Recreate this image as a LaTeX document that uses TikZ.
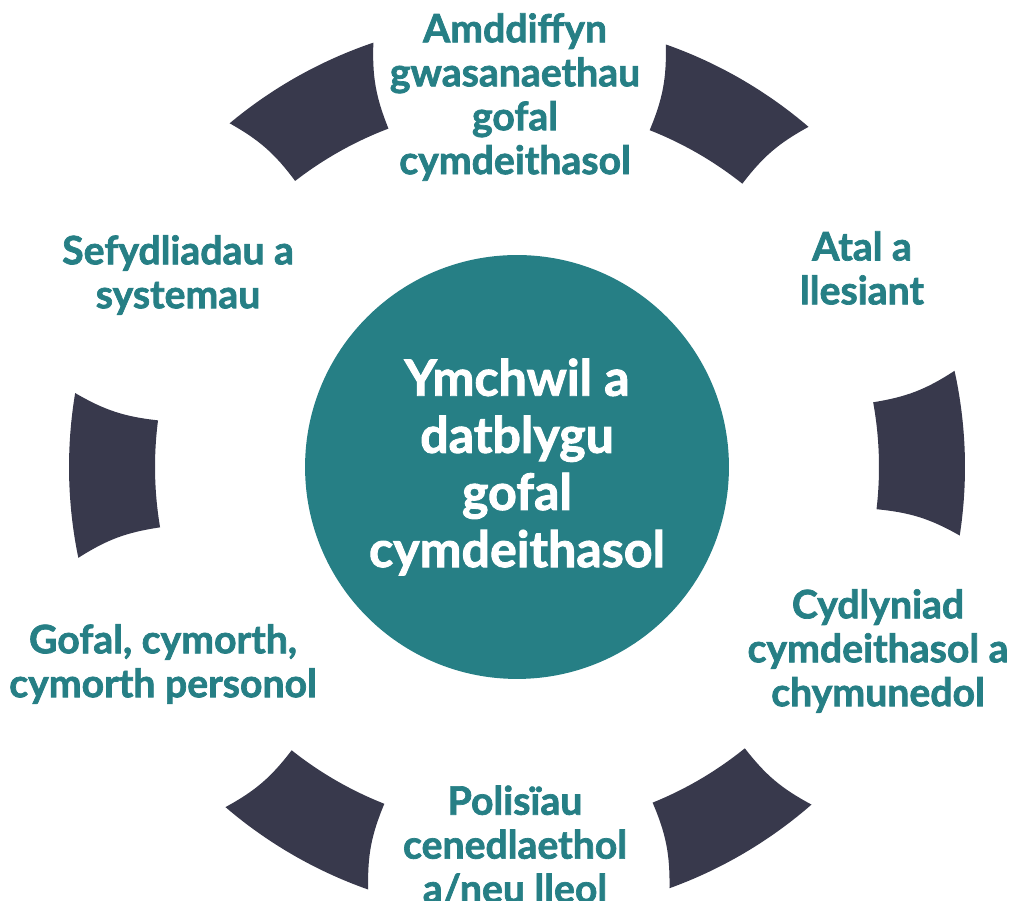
\documentclass[tikz,border=0pt]{standalone}
\usepackage{fontspec}
\setmainfont{Lato}[BoldFeatures={FakeBold=1.8}]
\definecolor{tealc}{RGB}{38,127,133}
\definecolor{darkc}{RGB}{56,57,76}
\begin{document}
\begin{tikzpicture}[x=0.02cm,y=0.02cm,
  lab/.style={text=tealc, font=\fontsize{22.3}{25}\selectfont\bfseries, align=center, inner sep=0pt},
  core/.style={circle, fill=tealc, minimum size=8.48cm, inner sep=0pt, text=white, align=center, font=\fontsize{28.5}{32.5}\selectfont\bfseries}
]
\useasboundingbox (0,0) rectangle (1013,901);
\begin{scope}[shift={(517,434)}]
\foreach \a/\d in {0/1.8,60/0,120/-0.7,180/1.1,240/0,300/0.5} {
  \pgfmathsetmacro{\oa}{\a+\d+10.6}
  \pgfmathsetmacro{\ob}{\a+\d-10.6}
  \pgfmathsetmacro{\ia}{\a+\d+8.5}
  \pgfmathsetmacro{\ib}{\a+\d-8.5}
  \fill[darkc] (\oa:448) arc[start angle=\oa, end angle=\ob, radius=448]
     to[bend right=12] (\ib:362) arc[start angle=\ib, end angle=\ia, radius=362]
     to[bend right=12] (\oa:448) -- cycle;
}
\end{scope}
\node[core] (c) at (517,434) {Ymchwil a\\datblygu\\gofal\\cymdeithasol};
\node[lab] (top) at (515,804) {Amddiffyn\\gwasanaethau\\gofal\\cymdeithasol};
\node[lab] (ur) at (862,633) {Atal a\\llesiant};
\node[lab] (ul) at (178,626) {Sefydliadau a\\systemau};
\node[lab] (lr) at (878,250) {Cydlyniad\\cymdeithasol a\\chymunedol};
\node[lab] (ll) at (163,237) {Gofal, cymorth,\\cymorth personol};
\node[lab] (bot) at (515,56) {Polisïau\\cenedlaethol\\a/neu lleol};
\end{tikzpicture}
\end{document}
